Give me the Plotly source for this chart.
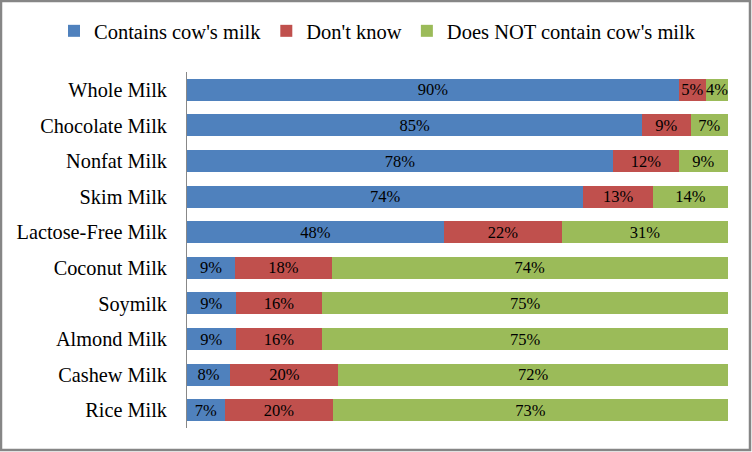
import plotly.graph_objects as go

categories = ["Whole Milk", "Chocolate Milk", "Nonfat Milk", "Skim Milk", "Lactose-Free Milk",
              "Coconut Milk", "Soymilk", "Almond Milk", "Cashew Milk", "Rice Milk"]
contains = [90, 85, 78, 74, 48, 9, 9, 9, 8, 7]
dont_know = [5, 9, 12, 13, 22, 18, 16, 16, 20, 20]
does_not = [4, 7, 9, 14, 31, 74, 75, 75, 72, 73]
series_names = ["Contains cow's milk", "Don't know", "Does NOT contain cow's milk"]

W, H = 752, 452
L, R, T, B = 187, 24, 72, 24
pw, ph = W - L - R, H - T - B

colors = ["#4F81BD", "#C0504D", "#9BBB59"]
font = "Liberation Serif"

fig = go.Figure()
for name, vals, col in zip(series_names, [contains, dont_know, does_not], colors):
    fig.add_trace(go.Bar(
        y=categories, x=vals, name=name, orientation="h",
        marker=dict(color=col, line=dict(width=0)),
        text=[f"{v}%" for v in vals], textposition="inside",
        insidetextanchor="middle", textangle=0,
        textfont=dict(family=font, size=16.5, color="black"),
        hoverinfo="x+y+name",
    ))

def px(x):
    return (x - L) / pw

def py(y):
    return (H - B - y) / ph

fig.update_layout(
    width=W, height=H,
    barmode="stack", barnorm="percent", bargap=0.38,
    margin=dict(l=L, r=R, t=T, b=B, autoexpand=False),
    paper_bgcolor="white", plot_bgcolor="white",
    font=dict(family=font, size=20, color="black"),
    uniformtext=dict(minsize=16.5, mode="show"),
    legend=dict(orientation="h", x=px(54), xanchor="left", y=py(31), yanchor="middle",
                font=dict(family=font, size=20.5), traceorder="normal",
                itemwidth=30, itemsizing="constant"),
    xaxis=dict(range=[0, 100], visible=False, showgrid=False, zeroline=False),
    yaxis=dict(autorange="reversed", showline=True, linecolor="#888888", linewidth=1,
               ticks="", showgrid=False, ticklabelstandoff=15,
               tickfont=dict(family=font, size=20.3, color="black")),
    shapes=[dict(type="rect", xref="paper", yref="paper",
                 x0=px(1), x1=px(750), y0=py(1), y1=py(450),
                 line=dict(color="#868686", width=2.5), layer="below")],
)

fig.write_html("out.html", config={"displayModeBar": False},
               post_script="document.body.style.margin='0';")
